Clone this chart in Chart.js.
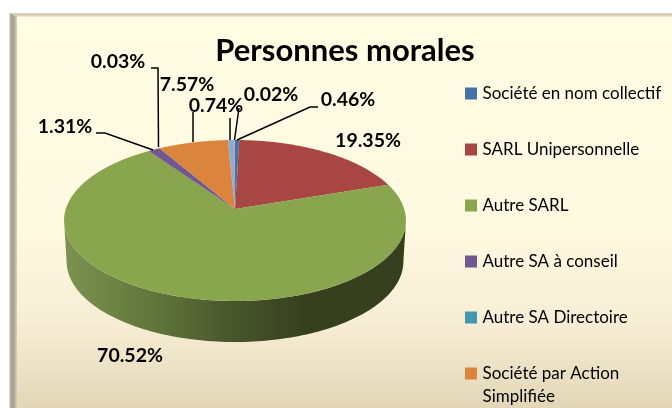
<!DOCTYPE html>
<html><head><meta charset="utf-8">
<style>html,body{margin:0;padding:0;background:#fff}canvas{display:block}</style>
<script src="https://cdn.jsdelivr.net/npm/chart.js@4"></script>
</head><body><canvas id="c" width="672" height="408"></canvas>
<script>
const categories = ['Société en nom collectif','SARL Unipersonnelle','Autre SARL','Autre SA à conseil','Autre SA Directoire',['Société par Action','Simplifiée'],'',''];
const shares = [0.46,19.35,70.52,1.31,0.03,7.57,0.74,0.02];
const sliceColors = ['#4572A7','#A84644','#89A54E','#71588F','#4198AF','#DB843D','#93A9CF','#D19392'];
const chartTitle = 'Personnes morales';

// label placement (centre of each value label), not data
const labelCentres = [[348,100],[368,141],[130,356],[65,127],[118,62],[187,85],[216,106],[271,95]];
// leader elbows: from next to the label towards the slice rim
const leaderElbows = [[[318,107],[310,107]],null,null,[[96,133],[105,133]],[[151,68],[158,68]],[[193,112]],[[230,118]],[[239,108]]];
const leaderEnds = [[237,140],null,null,[153,150],[158.5,147],[193,142],[230,140],[234.5,140]];

// perspective of the tilted disc
const P = {cx:235, cy:209, b:169.2, a:78.86, k:0.1429, depth:41, shrink:0.985};
function upperPoint(phi){const u=Math.cos(phi),v=-Math.sin(phi),d=1+P.k*v;return [P.cx+P.b*u/d,P.cy-P.a*v/d];}
function lowerPoint(phi){const u=Math.cos(phi),v=-Math.sin(phi),d=1+P.k*v;return [P.cx+P.b*P.shrink*u/d,P.cy-P.a*v/d+P.depth];}

const backdrop = {
  id:'backdrop',
  beforeDraw(chart){
    const c=chart.ctx,W=chart.width,H=chart.height;
    c.save();
    c.fillStyle='#fff';c.fillRect(0,0,W,H);
    let g=c.createLinearGradient(0,16,0,408);
    g.addColorStop(0,'#FFFDE4');g.addColorStop(.55,'#FEF9E1');g.addColorStop(.8,'#F5ECD3');g.addColorStop(1,'#E2D6B6');
    c.fillStyle=g;c.fillRect(10,14,W-10,H-14);
    c.fillStyle='#DDD0BA';
    c.beginPath();c.moveTo(9.5,13);c.lineTo(W,13);c.lineTo(W,16.5);c.lineTo(17,16.5);c.closePath();c.fill();
    g=c.createLinearGradient(9,0,18,0);
    g.addColorStop(0,'#C4BBA6');g.addColorStop(.45,'#A39C8A');g.addColorStop(1,'#E4DDC8');
    c.fillStyle=g;
    c.beginPath();c.moveTo(9.5,13);c.lineTo(17,16.5);c.lineTo(17,H);c.lineTo(9.5,H);c.closePath();c.fill();
    c.restore();
  }
};

const tiltedPie = {
  id:'tiltedPie',
  afterLayout(chart){
    const t=chart.titleBlock; t.left=145; t.right=545; t.top=32;
    const l=chart.legend; const pad=l.options.labels.padding;
    l.left=468-pad; l.top=85-pad;
  },
  beforeDatasetDraw(chart,args){
    const c=chart.ctx, arcs=args.meta.data;
    const start=Math.asin(P.k), end=Math.PI-start;
    const g=c.createLinearGradient(64,0,406,0);
    g.addColorStop(0,'#7C9351');g.addColorStop(.28,'#60733A');g.addColorStop(.5,'#47552B');g.addColorStop(.72,'#363F1E');g.addColorStop(1,'#353F1E');
    c.save();
    arcs.forEach(el=>{
      let a0=Math.max(el.startAngle,start),a1=Math.min(el.endAngle,end);
      if(a1<=a0) return;
      c.beginPath();
      const n=120;
      for(let i=0;i<=n;i++){const p=upperPoint(a0+(a1-a0)*i/n);i?c.lineTo(p[0],p[1]):c.moveTo(p[0],p[1]);}
      for(let i=n;i>=0;i--){const p=lowerPoint(a0+(a1-a0)*i/n);c.lineTo(p[0],p[1]);}
      c.closePath();c.fillStyle=g;c.fill();
    });
    arcs.forEach(el=>{
      c.beginPath();c.moveTo(P.cx,P.cy);
      const n=Math.max(2,Math.ceil((el.endAngle-el.startAngle)*80));
      for(let i=0;i<=n;i++){const p=upperPoint(el.startAngle+(el.endAngle-el.startAngle)*i/n);c.lineTo(p[0],p[1]);}
      c.closePath();
      c.fillStyle=el.options.backgroundColor;c.fill();
    });
    c.restore();
    return false;
  },
  afterDatasetsDraw(chart){
    const c=chart.ctx;
    c.save();
    c.strokeStyle='#000';c.lineWidth=1.5;
    leaderEnds.forEach((e,i)=>{
      if(!e) return;
      c.beginPath();
      leaderElbows[i].forEach((p,j)=>j?c.lineTo(p[0],p[1]):c.moveTo(p[0],p[1]));
      c.lineTo(e[0],e[1]);c.stroke();
    });
    c.fillStyle='#000';c.font='bold 19.5px Lato';c.textAlign='center';c.textBaseline='middle';
    shares.forEach((v,i)=>c.fillText(v.toFixed(2)+'%',labelCentres[i][0],labelCentres[i][1]));
    c.restore();
  }
};

new Chart(document.getElementById('c'),{
  type:'pie',
  data:{labels:categories,datasets:[{data:shares,backgroundColor:sliceColors,borderWidth:0}]},
  plugins:[backdrop,tiltedPie],
  options:{
    responsive:false,animation:false,
    layout:{padding:{bottom:-120}},
    plugins:{
      tooltip:{enabled:false},
      title:{display:true,text:chartTitle,color:'#000',font:{family:'Lato',weight:'bold',size:31,lineHeight:1.2},padding:{top:0,bottom:0}},
      legend:{
        position:'right',align:'start',
        labels:{
          font:{family:'Lato',size:17,lineHeight:1.33},
          color:'#111',boxWidth:6,boxHeight:6,padding:39,
          generateLabels(chart){
            return categories.map((t,i)=>({text:t,fillStyle:sliceColors[i],strokeStyle:sliceColors[i],lineWidth:6,lineJoin:'miter',hidden:false,index:i})).filter(x=>x.text!=='');
          }
        }
      }
    }
  }
});
</script></body></html>
